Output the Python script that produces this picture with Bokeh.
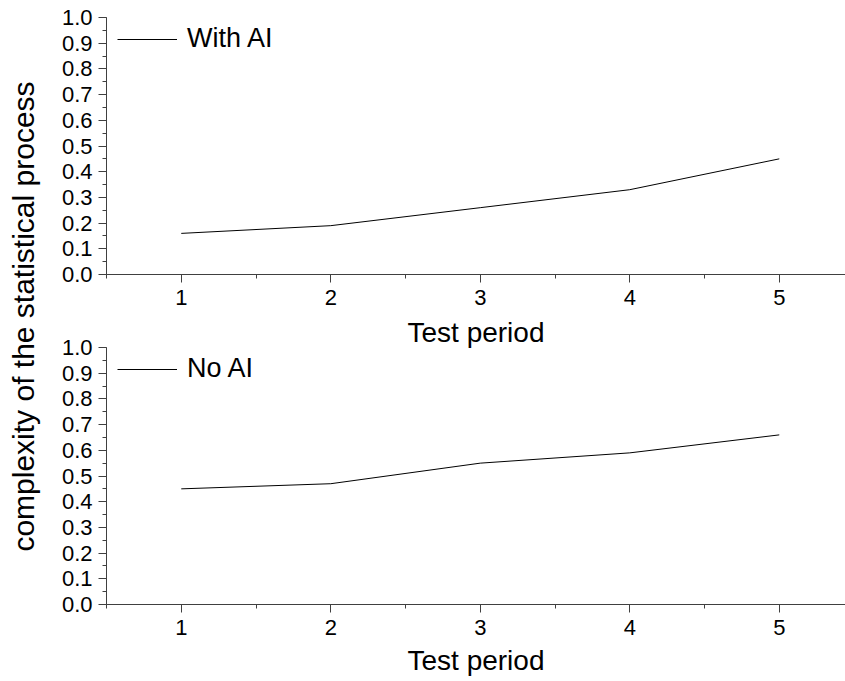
import math
from bokeh.plotting import figure
from bokeh.models import (Range1d, SingleIntervalTicker, PrintfTickFormatter,
                          Legend, LegendItem, Label)
from bokeh.layouts import row, column
from bokeh.embed import file_html
from bokeh.resources import INLINE

# ---- data ----
test_period = [1, 2, 3, 4, 5]
with_ai = [0.16, 0.19, 0.26, 0.33, 0.45]
no_ai = [0.45, 0.47, 0.55, 0.59, 0.66]
series_names = ["With AI", "No AI"]
x_label = "Test period"
y_label = "complexity of the statistical process"

FONT = "Liberation Sans"
AXIS_COLOR = "#404040"
FRAME_H = 257


def make_panel(yvals, name, height, border_top, border_bottom, label_standoff):
    p = figure(width=787, height=height, output_backend="svg",
               toolbar_location=None,
               x_range=Range1d(0.5, 5.443), y_range=Range1d(0, 1),
               min_border_left=48, min_border_right=0,
               min_border_top=border_top, min_border_bottom=border_bottom)
    p.outline_line_color = None
    p.xgrid.visible = False
    p.ygrid.visible = False
    p.background_fill_alpha = 0
    p.border_fill_alpha = 0

    xa = p.xaxis[0]
    xa.ticker = SingleIntervalTicker(interval=1, num_minor_ticks=2)
    xa.axis_label = x_label
    ya = p.yaxis[0]
    ya.ticker = SingleIntervalTicker(interval=0.1, num_minor_ticks=2)
    ya.formatter = PrintfTickFormatter(format="%.1f")
    for ax in (xa, ya):
        ax.axis_line_color = AXIS_COLOR
        ax.major_tick_line_color = AXIS_COLOR
        ax.minor_tick_line_color = AXIS_COLOR
        ax.major_tick_in = 0
        ax.major_tick_out = 8
        ax.minor_tick_in = 0
        ax.minor_tick_out = 4
        ax.major_label_text_font = FONT
        ax.major_label_text_font_size = "22px"
        ax.major_label_text_color = "black"
        ax.axis_label_text_font = FONT
        ax.axis_label_text_font_size = "28px"
        ax.axis_label_text_font_style = "normal"
        ax.axis_label_text_color = "black"
    xa.major_label_standoff = 7
    xa.axis_label_standoff = label_standoff
    ya.major_label_standoff = 6

    r = p.line(test_period, yvals, line_color="black", line_width=1)
    leg = Legend(items=[LegendItem(label=name, renderers=[r])],
                 location=(11, FRAME_H - 37), orientation="vertical",
                 glyph_width=60, glyph_height=20, label_standoff=10,
                 label_text_font=FONT, label_text_font_size="27px",
                 label_text_color="black",
                 border_line_color=None, background_fill_alpha=0,
                 padding=8, margin=0, spacing=0)
    p.add_layout(leg)
    return p


top = make_panel(with_ai, series_names[0], 358, 17, 84, 9)
bottom = make_panel(no_ai, series_names[1], 349, 15, 77, 7)
bottom.margin = (-26, 0, 0, 0)

lab = figure(width=58, height=681, output_backend="svg", toolbar_location=None,
             x_range=Range1d(0, 1), y_range=Range1d(0, 1),
             min_border=0, x_axis_location=None, y_axis_location=None)
lab.outline_line_color = None
lab.xgrid.visible = False
lab.ygrid.visible = False
lab.add_layout(Label(x=23, y=681 - 316, x_units="screen", y_units="screen",
                     text=y_label, angle=math.pi / 2, text_align="center",
                     text_baseline="middle", text_font=FONT,
                     text_font_size="30px", text_color="black"))

layout = row(lab, column(top, bottom, spacing=0), spacing=0)
open("out.html", "w").write(file_html(layout, INLINE))
